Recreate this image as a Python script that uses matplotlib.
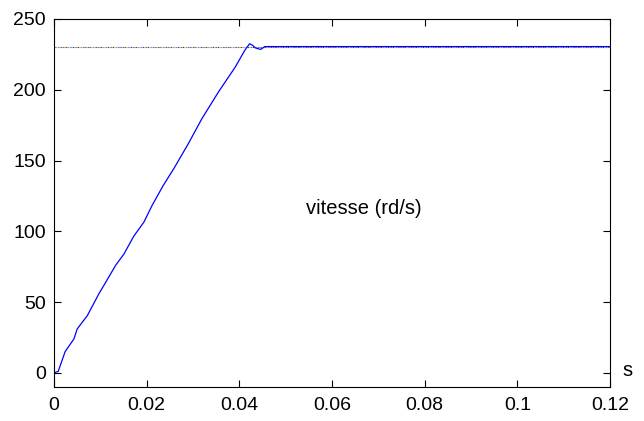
import matplotlib
matplotlib.use("Agg")
import matplotlib.pyplot as plt

plt.rcParams['font.family'] = ['Liberation Sans', 'DejaVu Sans']

# speed response
t = [0, 0.0004, 0.0009, 0.0024, 0.0043, 0.005, 0.0072, 0.0097, 0.0108,
     0.0133, 0.0151, 0.0172, 0.0194, 0.0212, 0.0235, 0.0258, 0.029,
     0.0319, 0.0355, 0.0391, 0.0412, 0.0422, 0.0428, 0.0435, 0.0446,
     0.0455, 0.12]
vitesse = [0, 0.5, 1, 15, 24, 31, 40.5, 56, 62,
           76, 84, 96.5, 106.5, 118.5, 132, 144, 162,
           179.5, 198.5, 216, 228, 232.5, 231.5, 229.5, 228.5,
           230.5, 230.5]
consigne = 230.5
ref_colors = ['#333333', '#cc3333', '#33aa33', '#3333cc', '#cc33cc', '#33aaaa', '#aaaa33']

fig = plt.figure(figsize=(6.44, 4.21), dpi=100)
ax = fig.add_axes([0.0839, 0.0808, 0.8634, 0.8741])

# dotted reference, drawn in several colours like the original
for i, c in enumerate(ref_colors):
    ax.plot([0, 0.12], [consigne, consigne], color=c, lw=0.8,
            linestyle=(i * 1.5, (1, 1.5 * len(ref_colors) - 1)))
ax.plot(t, vitesse, color='#0000ff', lw=0.9)

ax.set_xlim(0, 0.12)
ax.set_ylim(-10, 250)
ax.set_xticks([0, 0.02, 0.04, 0.06, 0.08, 0.1, 0.12])
ax.set_xticklabels(['0', '0.02', '0.04', '0.06', '0.08', '0.1', '0.12'])
ax.set_yticks([0, 50, 100, 150, 200, 250])
ax.tick_params(direction='in', top=True, right=True, labelsize=14, length=5)
ax.tick_params(axis='x', pad=7)
ax.tick_params(axis='y', pad=6)
for s in ax.spines.values():
    s.set_linewidth(0.8)

ax.text(0.0669, 116, 'vitesse (rd/s)', fontsize=14.5, ha='center', va='center')
ax.text(1.032, 0.045, 's', transform=ax.transAxes, fontsize=14.5, ha='center', va='center')

fig.savefig('out.png', dpi=100)
